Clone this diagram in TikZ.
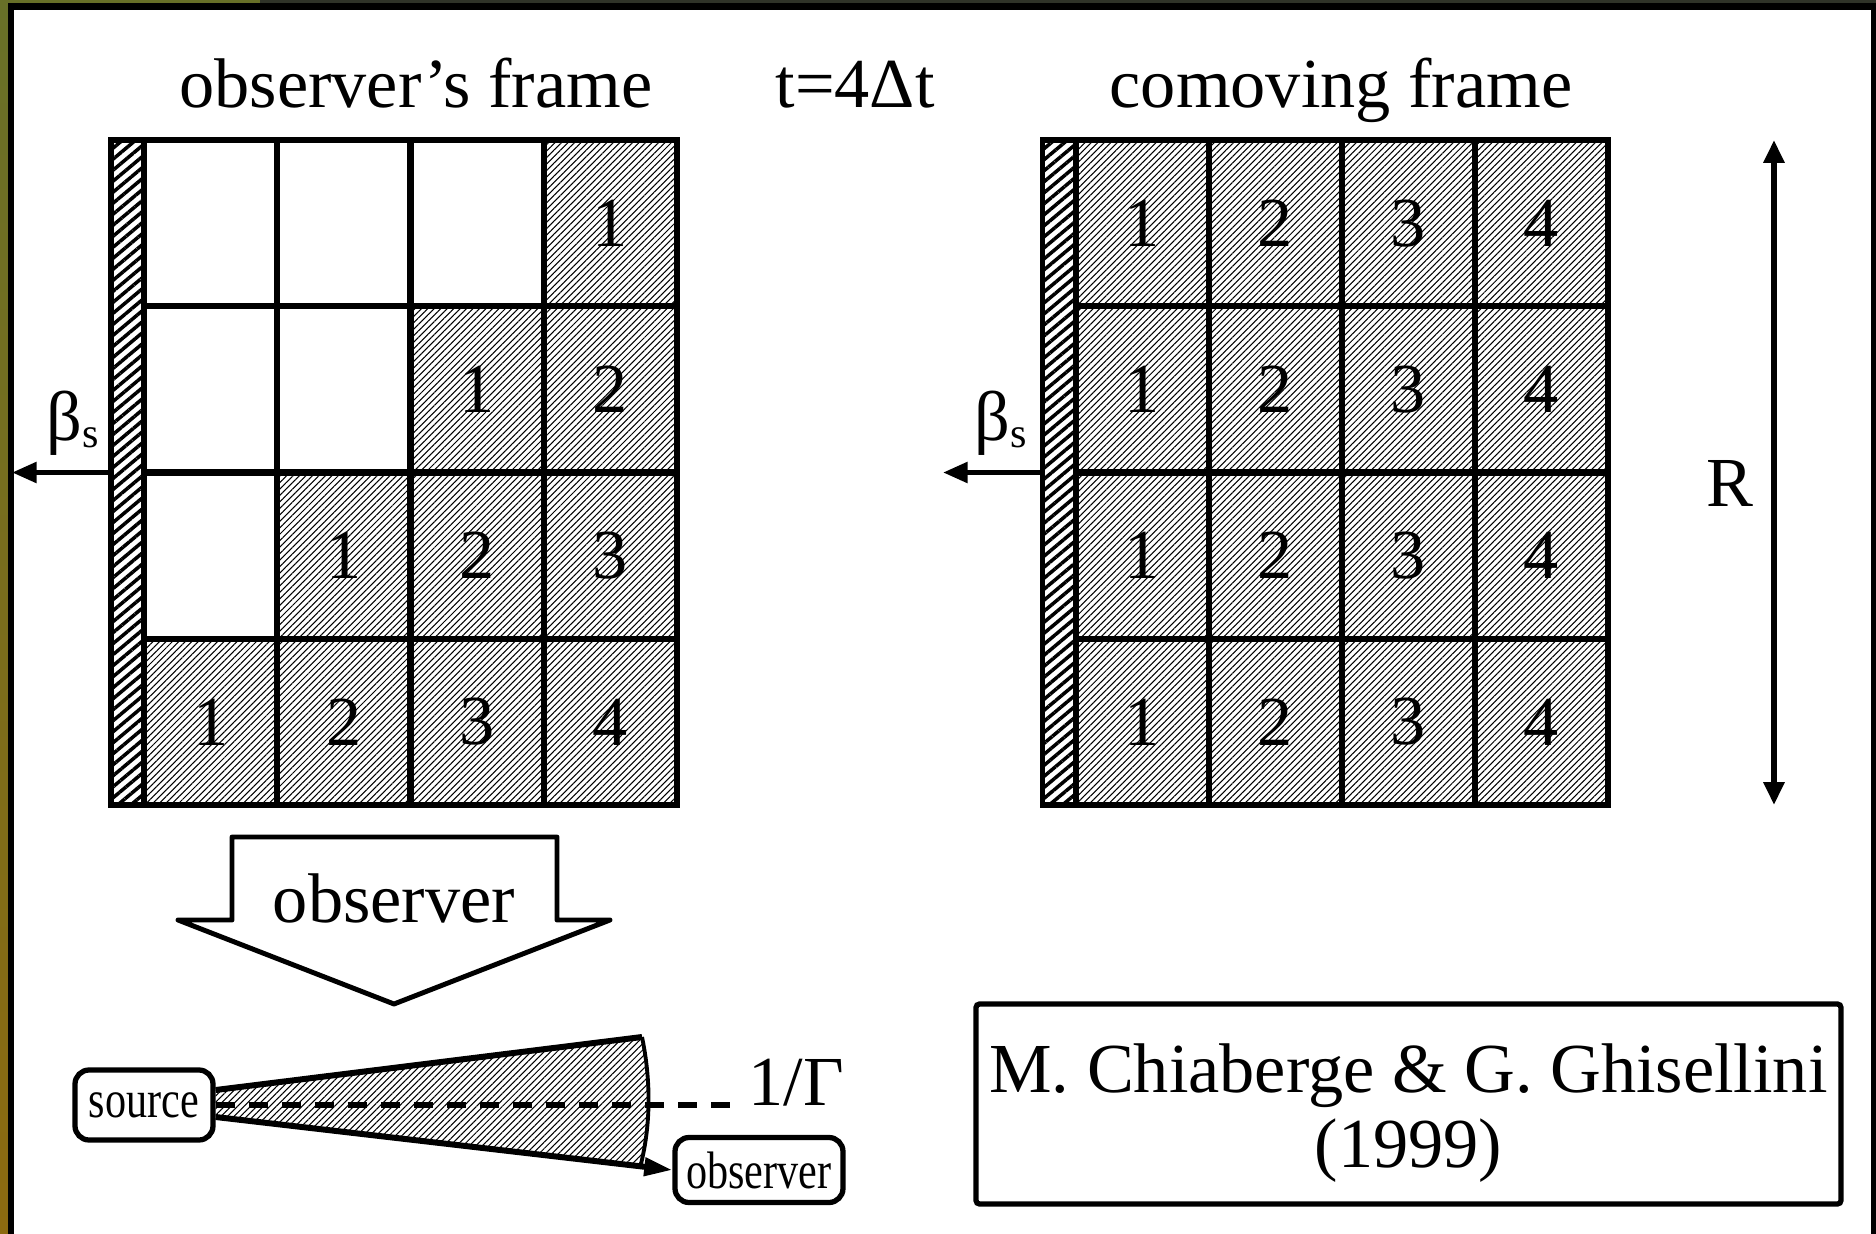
\documentclass[tikz,border=0pt]{standalone}
\usepackage{fontspec}
\setmainfont{Liberation Serif}
\newfontfamily\slimserif[FakeStretch=0.8]{Liberation Serif}
\usetikzlibrary{arrows.meta,positioning,calc,patterns.meta}

\definecolor{olivetop}{RGB}{104,112,40}
\definecolor{goldbot}{RGB}{140,106,16}
\definecolor{slidetop}{RGB}{47,51,40}

\newcommand{\bigtxt}{\fontsize{20}{21.5}\selectfont}

\begin{document}
\begin{tikzpicture}[x=0.1mm,y=-0.1mm,
  grid/.style={draw,line width=1.7pt,inner sep=0pt,minimum width=13.3mm,minimum height=16.6mm,font=\bigtxt},
  lit/.style={grid,pattern={Lines[angle=45,distance=1.3pt,line width=0.3pt]}},
  wall/.style={draw,line width=1.7pt,inner sep=0pt,minimum width=3.3mm,minimum height=66.5mm,
    pattern={Lines[angle=40,distance=2.4pt,line width=1pt]}},
  mv/.style={-{Triangle[length=7pt,width=5.7pt]},line width=1.5pt},
  pbox/.style={draw,line width=1.5pt,rounded corners=4pt,fill=white,inner sep=0pt,
    font=\slimserif\fontsize{15}{15}\selectfont},
  lb/.style={font=\bigtxt,anchor=base,inner sep=0pt}]
  \useasboundingbox (0,0) rectangle (1876,1234);

  % slide background and frame
  \fill[white] (0,0) rectangle (1876,1234);
  \shade[top color=olivetop,bottom color=goldbot] (0,0) rectangle (8,1234);
  \fill[slidetop] (8,0) rectangle (1876,3);
  \fill[olivetop] (8,0) rectangle (260,3);
  \fill (8,3) rectangle (14,1234);
  \fill (8,3) rectangle (1876,10);
  \fill (1871,3) rectangle (1876,1234);

  % titles
  \node[lb] (ttlobs) at (416,107) {observer's frame};
  \node[lb] (ttlt) at (855,107) {t=4Δt};
  \node[lb] (ttlcom) at (1341,107) {comoving frame};

  % the two grids of shells
  \foreach \r in {1,...,4}
    \foreach \c in {1,...,4}{
      \pgfmathtruncatemacro{\k}{\c+\r-4}
      \ifnum\k>0
        \node[lit] (obs-\r-\c) at ({144+133.25*(\c-0.5)},{140+166.25*(\r-0.5)}) {\k};
      \else
        \node[grid] (obs-\r-\c) at ({144+133.25*(\c-0.5)},{140+166.25*(\r-0.5)}) {};
      \fi
      \node[lit] (com-\r-\c) at ({1076+133*(\c-0.5)},{140+166.25*(\r-0.5)}) {\c};
    }

  % moving walls
  \node[wall] (wallobs) at (127.5,472.5) {};
  \node[wall] (wallcom) at (1059,472.5) {};
  \coordinate (tipobs) at (12,472.5);
  \coordinate (tipcom) at (943,472.5);
  \draw[mv] (wallobs.west) -- (tipobs);
  \draw[mv] (wallcom.west) -- (tipcom);
  \node[lb,anchor=base west] (betaobs) at (46,440) {β\raisebox{-2pt}{\fontsize{12}{12}\selectfont s}};
  \node[lb,anchor=base west] (betacom) at (974,440) {β\raisebox{-2pt}{\fontsize{12}{12}\selectfont s}};

  % size of the region
  \coordinate (rtop) at (1774,140);
  \coordinate (rbot) at (1774,805);
  \draw[line width=1.6pt,{Triangle[length=6.5pt,width=5.7pt]}-{Triangle[length=6.5pt,width=5.7pt]}] (rtop) -- (rbot);
  \node[lb] (rlen) at (1730,506) {R};

  % big arrow towards the observer
  \draw[line width=1.4pt,line join=round,fill=white] (232,837) -- (557,837) -- (557,920) -- (610,920)
    -- (394,1004) -- (178,920) -- (232,920) -- cycle;
  \node[lb] (look) at (394,922) {observer};

  % beaming cone
  \node[pbox,minimum width=13.8mm,minimum height=7mm] (src) at (144,1105) {source};
  \node[pbox,minimum width=16.8mm,minimum height=6.5mm] (obsv) at (759,1170) {observer};
  \coordinate (c1) at ($(src.east)+(0,-15)$);
  \coordinate (c4) at ($(src.east)+(0,12)$);
  \coordinate (c2) at (642,1037);
  \coordinate (c3) at ($(c4)!0.93!(obsv.west)$);
  \coordinate (gend) at (730,1105);
  \fill[pattern={Lines[angle=45,distance=1.3pt,line width=0.3pt]}]
    (c1) -- (c2) .. controls (651,1080) and (651,1125) .. (c3) -- (c4) -- cycle;
  \draw[line width=1.5pt,dash pattern=on 5.4pt off 4pt] (src.east) -- (gend);
  \draw[line width=1.7pt] (c1) -- (c2);
  \draw[line width=1.1pt] (c2) .. controls (651,1080) and (651,1125) .. (c3);
  \draw[line width=1.7pt,-{Triangle[length=8pt,width=5pt]}] (c4) -- (obsv.west);
  \node[lb,anchor=base west] (gam) at (748,1105) {1/Γ};

  % reference
  \node[draw,line width=1.5pt,rounded corners=1pt,minimum width=86.5mm,minimum height=20mm] (cite) at (1408.5,1104) {};
  \node[align=center,font=\bigtxt,inner sep=0pt] (citetxt) at ($(cite.center)+(0,9)$) {M. Chiaberge \& G. Ghisellini\\(1999)};
\end{tikzpicture}
\end{document}
